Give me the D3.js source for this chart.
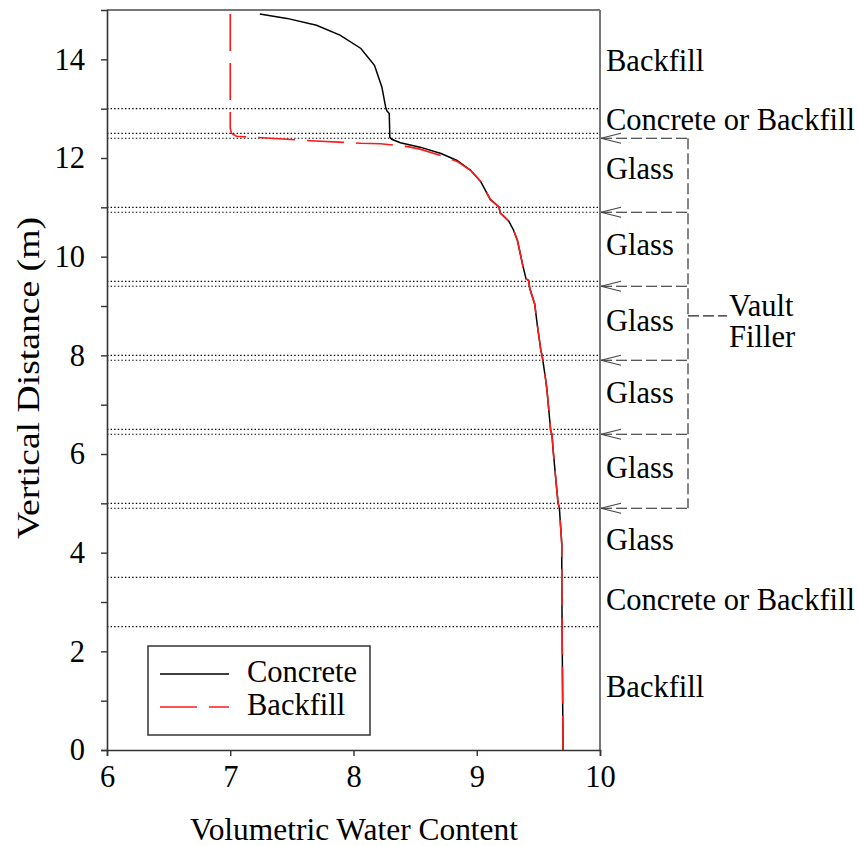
<!DOCTYPE html>
<html>
<head>
<meta charset="utf-8">
<script src="https://cdn.jsdelivr.net/npm/d3@7/dist/d3.min.js"></script>
<style>
  html, body { margin: 0; padding: 0; background: #fff; }
  svg text { font-family: "Liberation Serif", "Times New Roman", serif; fill: #000; }
</style>
</head>
<body>
<svg id="chart" width="859" height="846"></svg>
<script>
// Water content profiles (x = volumetric water content, y = vertical distance in m)
const concreteProfile = [
  [7.24, 14.92], [7.46, 14.83], [7.70, 14.69], [7.89, 14.49], [8.06, 14.22],
  [8.17, 13.88], [8.23, 13.44], [8.26, 13.04], [8.27, 12.96], [8.29, 12.90],
  [8.295, 12.42], [8.31, 12.38], [8.38, 12.31], [8.54, 12.22], [8.71, 12.09],
  [8.84, 11.95], [8.95, 11.75], [9.03, 11.53], [9.11, 11.16], [9.18, 11.01],
  [9.19, 10.89], [9.26, 10.72], [9.30, 10.53], [9.33, 10.33], [9.35, 10.10],
  [9.37, 9.86], [9.40, 9.55], [9.42, 9.52], [9.43, 9.36], [9.47, 9.04],
  [9.49, 8.64], [9.52, 8.10], [9.53, 8.00], [9.54, 7.83], [9.56, 7.49],
  [9.57, 7.29], [9.60, 6.47], [9.61, 6.40], [9.62, 6.07], [9.65, 5.26],
  [9.66, 5.00], [9.67, 4.92], [9.69, 4.17], [9.69, 3.36], [9.70, 0]
];
const backfillProfile = [
  [7.00, 14.92], [7.00, 12.60], [7.01, 12.50], [7.05, 12.44], [7.26, 12.41],
  [7.65, 12.35], [8.06, 12.30], [8.22, 12.29], [8.44, 12.23], [8.54, 12.18],
  [8.71, 12.05], [8.84, 11.93], [8.95, 11.75], [9.03, 11.53], [9.11, 11.16],
  [9.18, 11.01], [9.19, 10.89], [9.26, 10.72], [9.30, 10.53], [9.33, 10.33],
  [9.35, 10.10], [9.37, 9.86], [9.40, 9.55], [9.42, 9.52], [9.43, 9.36],
  [9.47, 9.04], [9.49, 8.64], [9.52, 8.10], [9.53, 8.00], [9.54, 7.83],
  [9.56, 7.49], [9.57, 7.29], [9.60, 6.47], [9.61, 6.40], [9.62, 6.07],
  [9.65, 5.26], [9.66, 5.00], [9.67, 4.92], [9.69, 4.17], [9.69, 3.36], [9.70, 0]
];

// Layer interfaces (m)
const layerBoundaries = [13.0, 12.5, 12.4, 11.0, 10.9, 9.5, 9.4, 8.0, 7.9, 6.5, 6.4, 5.0, 4.9, 3.5, 2.5];
// Interfaces pointed at by the vault filler bracket
const vaultLevels = [12.4, 10.9, 9.4, 7.9, 6.4, 4.9];
const vaultLabelLevel = 8.8;
const vaultLabelLines = ["Vault", "Filler"];

// Layer names and the level of each text baseline (m)
const layerLabels = ["Backfill", "Concrete or Backfill", "Glass", "Glass", "Glass", "Glass", "Glass", "Glass", "Concrete or Backfill", "Backfill"];
const layerLabelLevels = [13.76, 12.57, 11.57, 10.03, 8.49, 7.03, 5.51, 4.05, 2.84, 1.07];

const xTicks = [6, 7, 8, 9, 10];
const yTicks = [0, 1, 2, 3, 4, 5, 6, 7, 8, 9, 10, 11, 12, 13, 14];
const yTickLabels = [0, 2, 4, 6, 8, 10, 12, 14];

const seriesNames = ["Concrete", "Backfill"];
const seriesColors = ["#000000", "#ff1a1a"];

const xTitle = "Volumetric Water Content";
const yTitle = "Vertical Distance (m)";

const svg = d3.select("#chart");
const plotLeft = 107, plotRight = 600, plotTop = 10, plotBottom = 750;
const fontSize = 30.5;

const x = d3.scaleLinear().domain([6, 10]).range([plotLeft, plotRight]);
const y = d3.scaleLinear().domain([0, 15]).range([plotBottom, plotTop]);

// Dotted layer interfaces
svg.append("g").selectAll("line").data(layerBoundaries).join("line")
  .attr("x1", plotLeft).attr("x2", plotRight)
  .attr("y1", d => y(d)).attr("y2", d => y(d))
  .attr("stroke", "#000").attr("stroke-width", 1.2)
  .attr("stroke-dasharray", "1.4,2.2");

// Profiles
const line = d3.line().x(d => x(d[0])).y(d => y(d[1]));
svg.append("path").datum(concreteProfile)
  .attr("d", line).attr("fill", "none")
  .attr("stroke", seriesColors[0]).attr("stroke-width", 1.5);
svg.append("path").datum(backfillProfile)
  .attr("d", line).attr("fill", "none")
  .attr("stroke", seriesColors[1]).attr("stroke-width", 1.6)
  .attr("stroke-dasharray", "37,12");

// Frame: top and right edges
svg.append("line").attr("x1", plotLeft).attr("x2", plotRight).attr("y1", plotTop).attr("y2", plotTop)
  .attr("stroke", "#777").attr("stroke-width", 2);
svg.append("line").attr("x1", plotRight).attr("x2", plotRight).attr("y1", plotTop).attr("y2", plotBottom)
  .attr("stroke", "#777").attr("stroke-width", 2);

// Axes
const xAxis = d3.axisBottom(x).tickValues(xTicks).tickSize(6).tickPadding(10).tickFormat(d3.format("d"));
const gx = svg.append("g").attr("transform", `translate(0,${plotBottom})`).call(xAxis);
const yAxis = d3.axisLeft(y).tickValues(yTicks).tickSize(6).tickPadding(16)
  .tickFormat(d => yTickLabels.includes(d) ? d : "");
const gy = svg.append("g").attr("transform", `translate(${plotLeft},0)`).call(yAxis);
[gx, gy].forEach(g => {
  g.select(".domain").attr("stroke", "#333").attr("stroke-width", 1.6);
  g.selectAll(".tick line").attr("stroke", "#333").attr("stroke-width", 1.4);
  g.selectAll(".tick text").attr("font-size", fontSize).attr("fill", "#000");
});
gx.selectAll(".tick text").attr("dy", "0.7em");

svg.append("text").attr("x", 354).attr("y", 840)
  .attr("text-anchor", "middle").attr("font-size", fontSize)
  .attr("textLength", 328).attr("lengthAdjust", "spacingAndGlyphs").text(xTitle);
svg.append("text")
  .attr("transform", `translate(39,378) rotate(-90)`)
  .attr("text-anchor", "middle").attr("font-size", fontSize)
  .attr("textLength", 322).attr("lengthAdjust", "spacingAndGlyphs").text(yTitle);

// Layer names to the right of the plot
svg.append("g").selectAll("text").data(layerLabels).join("text")
  .attr("x", plotRight + 6).attr("y", (d, i) => y(layerLabelLevels[i]))
  .attr("font-size", fontSize).text(d => d);

// Vault filler bracket
const bracketX = 688;
const bracket = svg.append("g").attr("stroke", "#222").attr("stroke-width", 1.1).attr("fill", "none");
bracket.selectAll("line.arm").data(vaultLevels).join("line").attr("class", "arm")
  .attr("x1", plotRight + 1).attr("x2", bracketX)
  .attr("y1", d => y(d)).attr("y2", d => y(d))
  .attr("stroke-dasharray", "11,4");
bracket.selectAll("path.head").data(vaultLevels).join("path").attr("class", "head")
  .attr("d", d => `M${plotRight + 21},${y(d) - 5}L${plotRight + 1},${y(d)}L${plotRight + 21},${y(d) + 5}`)
  .attr("stroke", "#444");
bracket.append("line")
  .attr("x1", bracketX).attr("x2", bracketX)
  .attr("y1", y(d3.max(vaultLevels))).attr("y2", y(d3.min(vaultLevels)))
  .attr("stroke-dasharray", "11,4");
bracket.append("line")
  .attr("x1", bracketX).attr("x2", 727)
  .attr("y1", y(vaultLabelLevel)).attr("y2", y(vaultLabelLevel))
  .attr("stroke-dasharray", "11,4");
svg.append("g").selectAll("text").data(vaultLabelLines).join("text")
  .attr("x", 729).attr("y", (d, i) => y(vaultLabelLevel) + i * 31)
  .attr("font-size", fontSize).text(d => d);

// Legend
const legend = svg.append("g");
legend.append("rect").attr("x", 148).attr("y", 646).attr("width", 222).attr("height", 89)
  .attr("fill", "#fff").attr("stroke", "#333").attr("stroke-width", 1.5);
const legendRows = [674, 707];
seriesNames.forEach((name, i) => {
  legend.append("line").attr("x1", 160).attr("x2", 229)
    .attr("y1", legendRows[i]).attr("y2", legendRows[i])
    .attr("stroke", seriesColors[i]).attr("stroke-width", i ? 1.6 : 1.5)
    .attr("stroke-dasharray", i ? "37,12" : null);
  legend.append("text").attr("x", 247).attr("y", legendRows[i] + 8)
    .attr("font-size", fontSize).text(name);
});
</script>
</body>
</html>
